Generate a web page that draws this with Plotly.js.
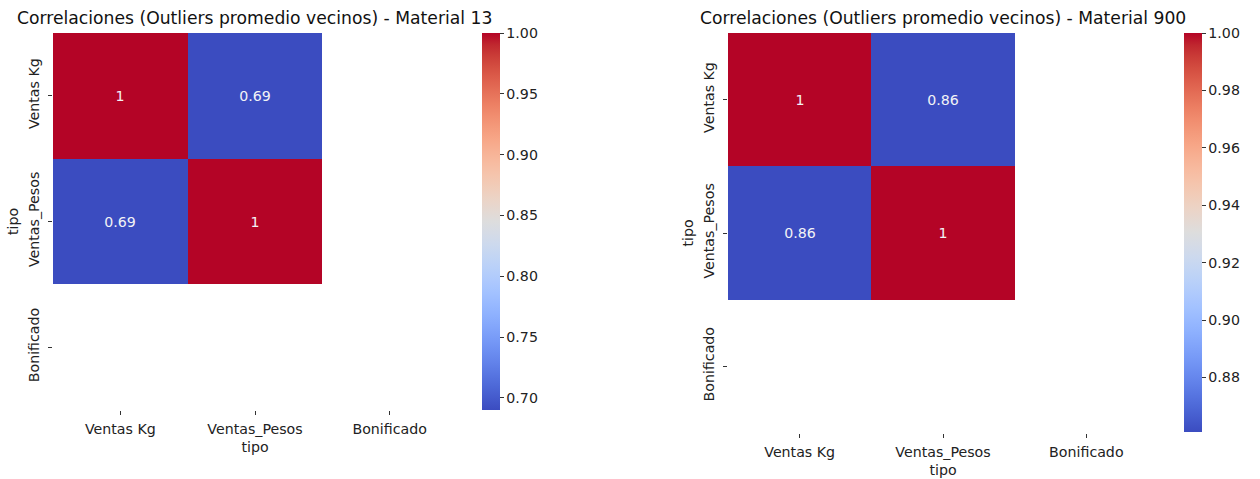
<!DOCTYPE html>
<html>
<head>
<meta charset="utf-8">
<script src="https://cdn.plot.ly/plotly-3.0.1.min.js"></script>
<style>html,body{margin:0;padding:0;background:#fff;}#chart{width:1260px;height:479px;}</style>
</head>
<body>
<div id="chart"></div>
<script>
// ---- data ----
const categories = ["Ventas Kg", "Ventas_Pesos", "Bonificado"];
const axisLabel = "tipo";
const titleLeft = "Correlaciones (Outliers promedio vecinos) - Material 13";
const titleRight = "Correlaciones (Outliers promedio vecinos) - Material 900";
// correlation matrices (rows = categories); Bonificado has no data (NaN)
const corrMat13 = [
  [1.0, 0.690, null],
  [0.690, 1.0, null],
  [null, null, null]
];
const corrMat900 = [
  [1.0, 0.861, null],
  [0.861, 1.0, null],
  [null, null, null]
];
const cbTicks13 = [0.70, 0.75, 0.80, 0.85, 0.90, 0.95, 1.00];
const cbTicks900 = [0.88, 0.90, 0.92, 0.94, 0.96, 0.98, 1.00];

// matplotlib "coolwarm"
const coolwarmRGB = [
  [59,76,192],[68,90,204],[77,104,215],[87,117,225],[98,130,234],[108,142,241],
  [119,154,247],[130,165,251],[141,176,254],[152,185,255],[163,194,255],[174,201,253],
  [184,208,249],[194,213,244],[204,217,238],[213,219,230],[221,221,221],[229,216,209],
  [236,211,197],[241,204,184],[245,196,172],[247,187,160],[247,177,148],[247,166,135],
  [244,154,123],[241,141,111],[236,127,99],[229,112,88],[222,96,77],[213,80,66],
  [203,62,56],[192,40,47],[180,4,38]
];
const coolwarm = coolwarmRGB.map((c, i) => [i / (coolwarmRGB.length - 1), `rgb(${c[0]},${c[1]},${c[2]})`]);

const W = 1260, H = 479;
const FONT = "DejaVu Sans, sans-serif";
const FS = 14.2;
const px = v => v / W, py = v => 1 - v / H;

function flatVals(m) { return m.flat().filter(v => v !== null); }
function cellText(m) { return m.map(r => r.map(v => v === null ? "" : String(+v.toFixed(2)))); }

function heat(z, xa, ya, ticks, cbx, cbTop, cbBot) {
  const vals = flatVals(z);
  return {
    type: "heatmap",
    x: categories, y: categories, z: z,
    xaxis: xa, yaxis: ya,
    colorscale: coolwarm,
    zmin: Math.min(...vals), zmax: Math.max(...vals),
    text: cellText(z), texttemplate: "%{text}",
    textfont: {family: FONT, size: FS, color: "#f2f2f6"},
    hoverongaps: false,
    xgap: 0, ygap: 0,
    colorbar: {
      x: px(cbx), xanchor: "left", xref: "paper",
      y: py(cbTop), yanchor: "top", yref: "paper",
      len: (cbBot - cbTop) / H, lenmode: "fraction",
      thickness: 18, thicknessmode: "pixels",
      outlinewidth: 0, xpad: 0, ypad: 0,
      tickmode: "array", tickvals: ticks, ticktext: ticks.map(t => t.toFixed(2)),
      ticks: "outside", ticklen: 4, tickwidth: 1, tickcolor: "#333",
      tickfont: {family: FONT, size: FS, color: "#222"}
    }
  };
}

const data = [
  heat(corrMat13, "x", "y", cbTicks13, 482, 33, 410),
  heat(corrMat900, "x2", "y2", cbTicks900, 1184, 33, 432)
];

function xax(d0, d1, anchor) {
  return {
    domain: [px(d0), px(d1)], anchor: anchor, type: "category",
    categoryorder: "array", categoryarray: categories,
    showgrid: false, zeroline: false, showline: false,
    ticks: "outside", ticklen: 4, tickwidth: 1, tickcolor: "#333",
    ticklabelstandoff: 2,
    tickfont: {family: FONT, size: FS, color: "#222"},
    title: {text: axisLabel, font: {family: FONT, size: FS, color: "#222"}, standoff: 6},
    fixedrange: true
  };
}
function yax(d0, d1, anchor) {
  return {
    domain: [py(d1), py(d0)], anchor: anchor, type: "category",
    categoryorder: "array", categoryarray: categories, autorange: "reversed",
    showgrid: false, zeroline: false, showline: false,
    ticks: "outside", ticklen: 4, tickwidth: 1, tickcolor: "#333",
    ticklabelstandoff: 3,
    tickangle: -90,
    tickfont: {family: FONT, size: FS, color: "#222"},
    title: {text: axisLabel, font: {family: FONT, size: FS, color: "#222"}, standoff: 4},
    fixedrange: true
  };
}

const layout = {
  width: W, height: H,
  margin: {l: 0, r: 0, t: 0, b: 0},
  paper_bgcolor: "#fff", plot_bgcolor: "#fff",
  font: {family: FONT, color: "#222"},
  showlegend: false,
  xaxis: xax(53, 457, "y"),
  yaxis: yax(33, 410, "x"),
  xaxis2: xax(728, 1158, "y2"),
  yaxis2: yax(33, 433, "x2"),
  annotations: [
    {text: titleLeft, x: px(254), y: py(18), xref: "paper", yref: "paper",
     xanchor: "center", yanchor: "middle", showarrow: false,
     font: {family: FONT, size: 17.2, color: "#111"}},
    {text: titleRight, x: px(943), y: py(18), xref: "paper", yref: "paper",
     xanchor: "center", yanchor: "middle", showarrow: false,
     font: {family: FONT, size: 17.2, color: "#111"}}
  ]
};

Plotly.newPlot("chart", data, layout, {displayModeBar: false, staticPlot: true});
</script>
</body>
</html>
